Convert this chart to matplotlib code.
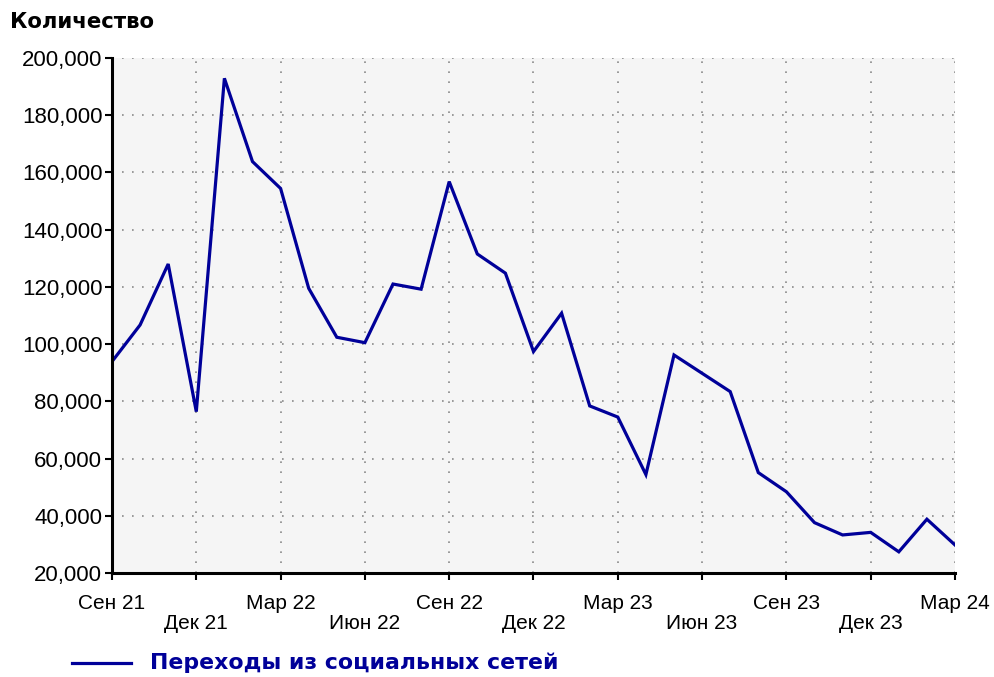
import numpy as np
import matplotlib.pyplot as plt
from matplotlib.ticker import FuncFormatter

plt.rcParams['font.family'] = ['Liberation Sans', 'DejaVu Sans']

# monthly values, Sep 2021 .. Mar 2024
months = np.arange(31)
values = [93900, 106700, 128000, 76400, 192900, 163800, 154400, 119500, 102400, 100500,
          121000, 119200, 156800, 131500, 124800, 97400, 110800, 78400, 74500, 54400,
          96200, 89800, 83400, 55100, 48400, 37600, 33300, 34200, 27400, 38800, 29800]

tick_pos = np.arange(0, 31, 3)
tick_labels = ['Сен 21', 'Дек 21', 'Мар 22', 'Июн 22', 'Сен 22', 'Дек 22',
               'Мар 23', 'Июн 23', 'Сен 23', 'Дек 23', 'Мар 24']
y_ticks = np.arange(20000, 200001, 20000)

series_name = 'Переходы из социальных сетей'
line_color = '#000099'

fig = plt.figure(figsize=(9.95, 6.77), dpi=100)
ax = fig.add_axes([112 / 995, 1 - 573 / 677, (955 - 112) / 995, (573 - 58) / 677])
ax.set_facecolor('#f5f5f5')

ax.plot(months, values, color=line_color, lw=2.3, solid_joinstyle='miter')

ax.set_xlim(0, 30)
ax.set_ylim(20000, 200000)
ax.set_yticks(y_ticks)
ax.yaxis.set_major_formatter(FuncFormatter(lambda v, p: f'{int(v):,}'))
ax.set_xticks(tick_pos)
ax.set_xticklabels([t if i % 2 == 0 else '\n' + t for i, t in enumerate(tick_labels)],
                   linespacing=1.05)

ax.grid(True, color='#8a8a8a', linestyle=(0, (1, 5)), lw=1.2)
ax.set_axisbelow(True)
for s in ['top', 'right']:
    ax.spines[s].set_visible(False)
for s in ['left', 'bottom']:
    ax.spines[s].set_linewidth(2.2)
ax.tick_params(axis='both', colors='black', length=5, width=1.5)
ax.tick_params(axis='x', labelsize=15, pad=10)
ax.tick_params(axis='y', labelsize=16, pad=2)

fig.text(10 / 995, 1 - 22 / 677, 'Количество', fontsize=15.3, fontweight='bold',
         family='DejaVu Sans', va='center', ha='left')

# legend drawn by hand at the bottom
fig.lines.append(plt.Line2D([72 / 995, 131 / 995], [1 - 663 / 677, 1 - 663 / 677],
                            color=line_color, lw=2.3, transform=fig.transFigure))
fig.text(150 / 995, 1 - 663 / 677, series_name, fontsize=15.8, fontweight='bold',
         family='DejaVu Sans', color=line_color, va='center', ha='left')

fig.savefig('out.png', dpi=100)
